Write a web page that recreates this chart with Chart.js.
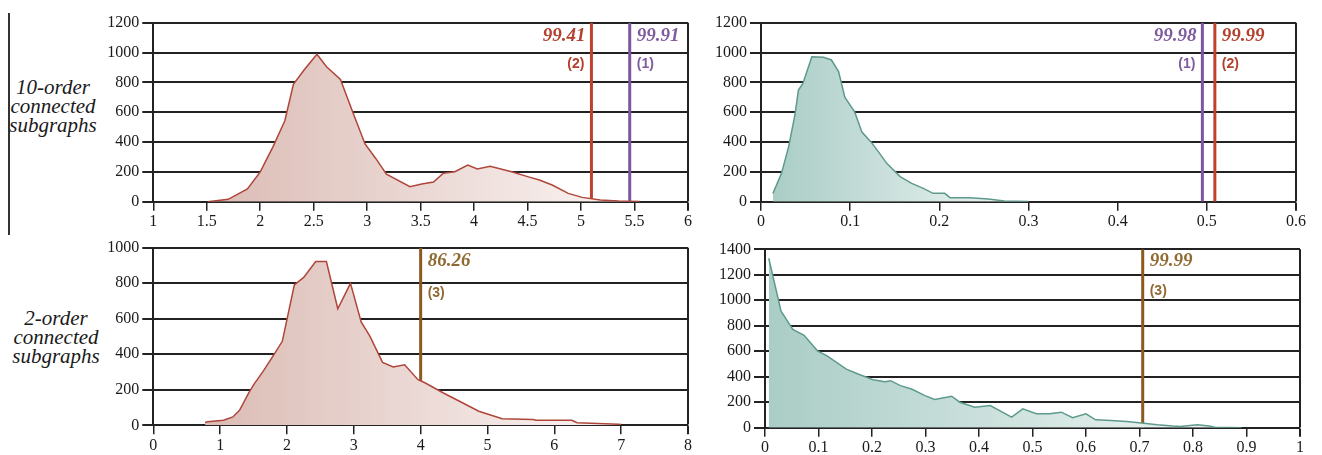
<!DOCTYPE html>
<html><head><meta charset="utf-8">
<script src="https://cdn.jsdelivr.net/npm/chart.js@4.4.1/dist/chart.umd.min.js"></script>
<style>
body{margin:0;background:#fff;width:1322px;height:455px;position:relative;overflow:hidden;}
.c{position:absolute;}
.lab{position:absolute;font-family:"Liberation Serif",serif;font-style:italic;font-size:21px;line-height:19px;text-align:center;color:#1a1a1a;width:110px;}
</style></head><body>
<div style="position:absolute;left:8px;top:13px;width:1.5px;height:222px;background:#333"></div>
<div class="lab" style="left:-2px;top:78px">10-order<br>connected<br>subgraphs</div>
<div class="lab" style="left:1px;top:309px">2-order<br>connected<br>subgraphs</div>
<div class="c" style="left:90px;top:0;"><canvas id="c1" width="610" height="232"></canvas></div>
<div class="c" style="left:700px;top:0;"><canvas id="c2" width="622" height="232"></canvas></div>
<div class="c" style="left:90px;top:232px;"><canvas id="c3" width="610" height="223"></canvas></div>
<div class="c" style="left:700px;top:232px;"><canvas id="c4" width="622" height="223"></canvas></div>
<script>
// ---- data ----
const tl_x = [1.51,1.70,1.88,2.0,2.12,2.23,2.31,2.41,2.53,2.62,2.75,2.87,2.98,3.08,3.18,3.40,3.51,3.62,3.71,3.82,3.94,4.03,4.15,4.35,4.50,4.61,4.73,4.88,5.01,5.18,5.35,5.55];
const tl_y = [0,16,85,200,369,543,787,883,988,905,820,592,387,290,185,100,118,132,190,201,246,219,237,201,168,145,112,56,29,11,4,2];
const tl_marker_x = [5.097, 5.455];
const tl_marker_value = ['99.41', '99.91'];
const tl_marker_tag = ['(2)', '(1)'];

const tr_x = [0.0134,0.023,0.031,0.038,0.042,0.047,0.057,0.070,0.079,0.087,0.094,0.105,0.113,0.124,0.133,0.141,0.156,0.169,0.182,0.193,0.206,0.212,0.234,0.255,0.273,0.30];
const tr_y = [56,190,369,581,749,793,972,968,950,872,700,603,469,396,324,257,168,123,89,56,56,27,27,18,4,2];
const tr_marker_x = [0.495, 0.509];
const tr_marker_value = ['99.98', '99.99'];
const tr_marker_tag = ['(1)', '(2)'];

const bl_x = [0.775,0.81,1.05,1.19,1.29,1.43,1.51,1.64,1.80,1.93,2.11,2.25,2.43,2.59,2.76,2.95,3.11,3.24,3.43,3.59,3.76,3.96,4.07,4.34,4.61,4.87,5.22,5.68,5.73,6.26,6.34,6.96,7.0];
const bl_y = [16,20,28,47,84,184,233,302,395,473,790,833,922,922,656,799,582,502,354,328,341,257,238,182,130,79,37,33,28,28,15,6,4];
const bl_marker_x = [4.0];
const bl_marker_value = ['86.26'];
const bl_marker_tag = ['(3)'];

const br_x = [0.007,0.030,0.052,0.073,0.098,0.116,0.152,0.174,0.202,0.224,0.235,0.253,0.274,0.299,0.317,0.349,0.364,0.392,0.421,0.461,0.482,0.507,0.532,0.554,0.575,0.600,0.618,0.647,0.676,0.704,0.733,0.762,0.776,0.808,0.830,0.841,0.891];
const br_y = [1330,914,771,725,603,564,460,421,377,361,369,330,304,252,221,247,200,161,174,83,148,109,109,122,78,109,62,57,49,36,23,13,10,23,13,3,0];
const br_marker_x = [0.706];
const br_marker_value = ['99.99'];
const br_marker_tag = ['(3)'];

// ---- styles ----
const RED = '#bf402c', RED_T = '#b4412d';
const PUR = '#7d55a0', PUR_T = '#7f5b9f';
const BRN = '#8c5a1e', BRN_T = '#8f6a32';
const ROSE = {line:'#b0463a', f0:'#dbbbb4', f1:'#fbf6f5'};
const TEAL = {line:'#5e9a8c', f0:'#aacdc6', f1:'#f2f7f6'};
const SERIF = '"Liberation Serif", "Times New Roman", serif';

const labelPlugin = {
  id: 'mlabels',
  afterDatasetsDraw(chart, args, opts) {
    const c = chart.ctx, xs = chart.scales.x, ys = chart.scales.y;
    opts.markers.forEach(m => {
      const px = xs.getPixelForValue(m.x);
      const right = m.side === 'right';
      c.save();
      c.textBaseline = 'middle';
      c.textAlign = right ? 'left' : 'right';
      c.fillStyle = m.tcolor;
      c.font = 'italic bold 19px ' + SERIF;
      c.fillText(m.value, right ? px + 7 : px - 6, ys.getPixelForValue(opts.valY));
      c.font = 'bold 14px "Liberation Sans", Arial, sans-serif';
      c.fillText(m.tag, right ? px + 7 : px - 7, ys.getPixelForValue(opts.tagY));
      c.restore();
    });
  }
};

function fmt(v){ return String(parseFloat(Number(v).toFixed(3))); }

function makeChart(id, o) {
  const datasets = [{
    data: o.xs.map((x, i) => ({x, y: o.ys[i]})),
    borderColor: o.pal.line, borderWidth: 1.5, pointRadius: 0, tension: 0, fill: 'origin',
    backgroundColor: (ctx) => {
      const ch = ctx.chart;
      if (!ch.chartArea) return o.pal.f0;
      const sx = ch.scales.x;
      const g = ch.ctx.createLinearGradient(sx.getPixelForValue(o.xs[0]), 0, sx.getPixelForValue(o.xs[o.xs.length - 1]), 0);
      g.addColorStop(0, o.pal.f0);
      g.addColorStop(1, o.pal.f1);
      return g;
    }
  }];
  const markers = o.mx.map((x, i) => ({x, value: o.mv[i], tag: o.mt[i], color: o.mc[i], tcolor: o.mtc[i], side: o.ms[i]}));
  markers.forEach(m => datasets.push({
    data: [{x: m.x, y: 0}, {x: m.x, y: o.ymax}],
    borderColor: m.color, borderWidth: 3, pointRadius: 0, fill: false
  }));
  return new Chart(document.getElementById(id), {
    type: 'line',
    data: {datasets},
    plugins: [labelPlugin],
    options: {
      responsive: false, animation: false, events: [],
      layout: {padding: {top: o.pt, right: o.pr, left: 0, bottom: 0}},
      plugins: {legend: {display: false}, tooltip: {enabled: false}, mlabels: {markers, valY: o.valY, tagY: o.tagY}},
      scales: {
        x: {
          type: 'linear', min: o.xmin, max: o.xmax,
          afterFit: s => { s.height = o.xh; },
          ticks: {stepSize: o.xstep, autoSkip: false, maxRotation: 0, padding: 1.5, color: '#1a1a1a',
                  font: {family: SERIF, size: 16}, callback: fmt},
          grid: {
            drawOnChartArea: true, drawTicks: true, tickLength: 9,
            color: c => (c.tick && Math.abs(c.tick.value - o.xmax) < 1e-9) ? '#222' : 'rgba(0,0,0,0)',
            tickColor: '#222',
            lineWidth: c => (c.tick && Math.abs(c.tick.value - o.xmax) < 1e-9) ? 2 : 1.5
          },
          border: {display: true, color: '#222', width: 2}
        },
        y: {
          min: 0, max: o.ymax,
          afterFit: s => { s.width = o.yw; },
          ticks: {stepSize: 200, padding: 3, color: '#1a1a1a', font: {family: SERIF, size: 16}, callback: v => String(v)},
          grid: {color: '#222', lineWidth: 2, tickLength: 11, drawTicks: true},
          border: {display: true, color: '#222', width: 2}
        }
      }
    }
  });
}

makeChart('c1', {xs: tl_x, ys: tl_y, pal: ROSE, xmin: 1, xmax: 6, xstep: 0.5, ymax: 1200,
  mx: tl_marker_x, mv: tl_marker_value, mt: tl_marker_tag, mc: [RED, PUR], mtc: [RED_T, PUR_T], ms: ['left', 'right'],
  valY: 1110, tagY: 923, pt: 22.7, pr: 12, yw: 63.3, xh: 30.3});
makeChart('c2', {xs: tr_x, ys: tr_y, pal: TEAL, xmin: 0, xmax: 0.6, xstep: 0.1, ymax: 1200,
  mx: tr_marker_x, mv: tr_marker_value, mt: tr_marker_tag, mc: [PUR, RED], mtc: [PUR_T, RED_T], ms: ['left', 'right'],
  valY: 1110, tagY: 923, pt: 22.7, pr: 26, yw: 61, xh: 30.3});
makeChart('c3', {xs: bl_x, ys: bl_y, pal: ROSE, xmin: 0, xmax: 8, xstep: 1, ymax: 1000,
  mx: bl_marker_x, mv: bl_marker_value, mt: bl_marker_tag, mc: [BRN], mtc: [BRN_T], ms: ['right'],
  valY: 922, tagY: 745, pt: 15.7, pr: 12, yw: 63.3, xh: 29.7});
makeChart('c4', {xs: br_x, ys: br_y, pal: TEAL, xmin: 0, xmax: 1, xstep: 0.1, ymax: 1400,
  mx: br_marker_x, mv: br_marker_value, mt: br_marker_tag, mc: [BRN], mtc: [BRN_T], ms: ['right'],
  valY: 1304, tagY: 1075, pt: 17.3, pr: 22, yw: 65, xh: 27.3});
</script>
</body></html>
